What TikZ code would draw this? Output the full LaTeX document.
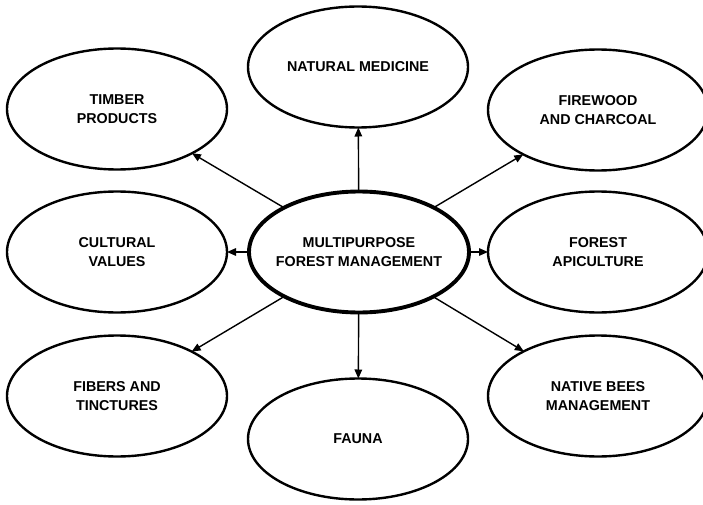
\documentclass[tikz,border=0pt]{standalone}
\usepackage{fontspec}
\setmainfont{Liberation Sans}
\usetikzlibrary{shapes.geometric,arrows.meta}
\begin{document}
\begin{tikzpicture}[x=1pt,y=-1pt,
  ell/.style={ellipse, draw=black, line width=2.4pt, inner sep=0pt, outer sep=0pt,
    minimum width=220pt, minimum height=121pt, align=center,
    font=\fontsize{14.3}{18.5}\selectfont\bfseries},
  hub/.style={ell, line width=3.9pt, inner xsep=-12pt},
  conn/.style={line width=1.4pt, -{Triangle[length=9pt,width=7.5pt]}}]
\useasboundingbox (0,0) rectangle (703,505);
\node[ell] (nm) at (358,67) {NATURAL MEDICINE};
\node[ell] (tp) at (117,109) {TIMBER\\PRODUCTS};
\node[ell] (fc) at (598,110) {FIREWOOD\\AND CHARCOAL};
\node[ell] (cv) at (117,252) {CULTURAL\\VALUES};
\node[hub] (mf) at (359,252) {MULTIPURPOSE\\FOREST MANAGEMENT};
\node[ell] (fa) at (598,252) {FOREST\\APICULTURE};
\node[ell] (ft) at (117,396) {FIBERS AND\\TINCTURES};
\node[ell] (fn) at (358,439) {FAUNA};
\node[ell] (nb) at (598,396) {NATIVE BEES\\MANAGEMENT};
\draw[conn] (mf) -- (nm);
\draw[conn] (mf) -- (tp);
\draw[conn] (mf) -- (fc);
\draw[conn] (mf) -- (cv);
\draw[conn] (mf) -- (fa);
\draw[conn] (mf) -- (ft);
\draw[conn] (mf) -- (fn);
\draw[conn] (mf) -- (nb);
\end{tikzpicture}
\end{document}
